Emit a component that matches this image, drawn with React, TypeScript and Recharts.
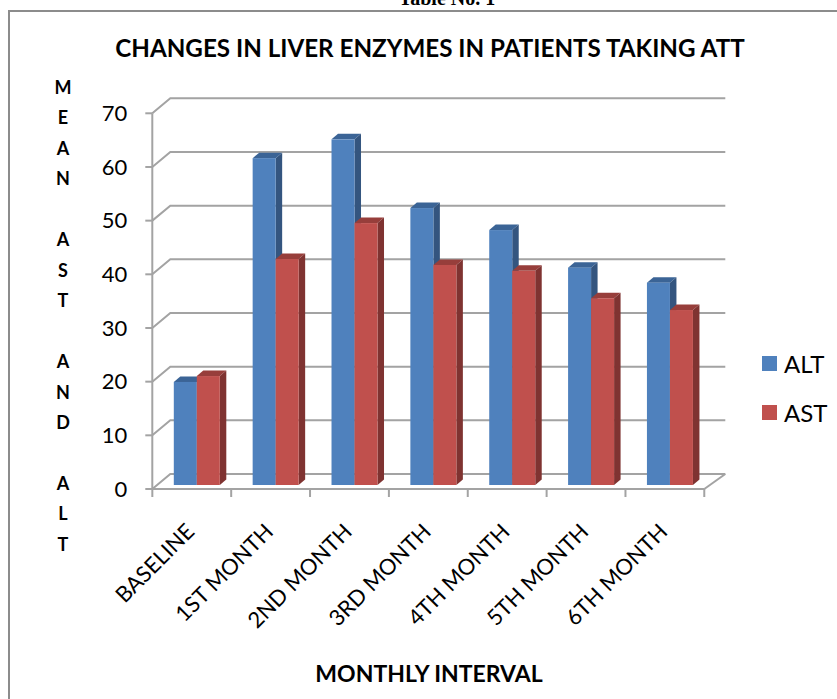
import { Bar, BarChart, CartesianGrid, Legend, XAxis, YAxis } from "recharts";

const categories = ["BASELINE", "1ST MONTH", "2ND MONTH", "3RD MONTH", "4TH MONTH", "5TH MONTH", "6TH MONTH"];
const altValues = [19.2, 60.9, 64.4, 51.6, 47.5, 40.5, 37.7];
const astValues = [20.3, 42.1, 48.8, 41, 39.9, 34.8, 32.6];
const yTicks = [0, 10, 20, 30, 40, 50, 60, 70];
const yTitleLines = ["M", "E", "A", "N", "", "A", "S", "T", "", "A", "N", "D", "", "A", "L", "T"];

const chartData = categories.map((name, i) => ({ name, ALT: altValues[i], AST: astValues[i] }));

const FONT = "Lato, sans-serif";
const AXIS_COLOR = "#a3a3a3";
const AXIS_WIDTH = 2;
const STEP = 78.8;
// offsets of the fake 3D: back wall, bars inside the floor, bar depth
const WALL_DX = 18;
const WALL_DY = 15;
const BAR_DX = 5.5;
const BAR_DY = 4;
const DEPTH_X = 6.5;
const DEPTH_Y = 5.5;

const Bar3D = ({ x, y, width, height, front, side, top }: any) => {
  const fx = x + BAR_DX;
  const fy = y - BAR_DY;
  const right = fx + width;
  const bottom = fy + height;
  return (
    <g>
      <path
        d={`M${fx},${fy} L${fx + DEPTH_X},${fy - DEPTH_Y} L${right + DEPTH_X},${fy - DEPTH_Y} L${right},${fy} Z`}
        fill={top}
      />
      <path
        d={`M${right},${fy} L${right + DEPTH_X},${fy - DEPTH_Y} L${right + DEPTH_X},${bottom - DEPTH_Y} L${right},${bottom} Z`}
        fill={side}
      />
      <rect x={fx} y={fy} width={width} height={height} fill={front} />
    </g>
  );
};

const WallLine = ({ x1, y1, x2, index }: any) => {
  const backY = y1 - WALL_DY;
  const isFloor = y1 > 480;
  return (
    <g key={index} fill="none" stroke={AXIS_COLOR} strokeWidth={AXIS_WIDTH}>
      <path d={`M${x1},${y1} L${x1 + WALL_DX},${backY} L${x2 + 21},${backY}`} />
      {isFloor && <path d={`M${x2},${y1} L${x2 + 21},${backY}`} />}
    </g>
  );
};

const CategoryTick = ({ x, y, payload, index }: any) => {
  const left = x - STEP / 2;
  const labelX = x + 4;
  const labelY = y + 36;
  return (
    <g>
      <line x1={left} y1={y - 8} x2={left} y2={y} stroke={AXIS_COLOR} strokeWidth={AXIS_WIDTH} />
      {index === categories.length - 1 && (
        <line x1={left + STEP} y1={y - 8} x2={left + STEP} y2={y} stroke={AXIS_COLOR} strokeWidth={AXIS_WIDTH} />
      )}
      <text
        x={labelX}
        y={labelY}
        transform={`rotate(-45 ${labelX} ${labelY})`}
        textAnchor="end"
        fontFamily={FONT}
        fontSize={22}
        fill="#000"
      >
        {payload.value}
      </text>
    </g>
  );
};

const LegendList = ({ payload }: any) => (
  <div>
    {payload.map((item: any) => (
      <div key={item.value} style={{ display: "flex", alignItems: "center", height: 49, fontFamily: FONT, fontSize: 24 }}>
        <span style={{ width: 15, height: 15, marginRight: 7, background: item.color }} />
        {item.value}
      </div>
    ))}
  </div>
);

export default function App() {
  return (
    <div style={{ position: "absolute", left: 0, top: 0, width: 837, height: 699, overflow: "hidden", background: "#fff" }}>
      <div
        style={{
          position: "absolute",
          left: 8,
          top: 10,
          width: 900,
          height: 800,
          border: "2.5px solid #8c8c8c",
          boxSizing: "border-box"
        }}
      />
      <div
        style={{
          position: "absolute",
          left: 0,
          width: 894,
          top: -13,
          textAlign: "center",
          fontFamily: "'Liberation Serif', serif",
          fontWeight: "bold",
          fontSize: 20
        }}
      >
        Table No. 1
      </div>
      <div style={{ position: "absolute", left: 0, top: 0 }}>
        <BarChart
          width={837}
          height={699}
          data={chartData}
          barCategoryGap="20.9%"
          barGap={0}
          barSize={23}
          margin={{ top: 113.3, left: 92.3, right: 62.7, bottom: 110 }}
        >
          <text x={430} y={57} textAnchor="middle" fontFamily={FONT} fontWeight="bold" fontSize={24.2} fill="#000">
            CHANGES IN LIVER ENZYMES IN PATIENTS TAKING ATT
          </text>
          <text x={63} y={0} textAnchor="middle" fontFamily={FONT} fontWeight="bold" fontSize={18} fill="#000">
            {yTitleLines.map((letter, i) => (
              <tspan key={i} x={63} y={94 + i * 30.45}>
                {letter}
              </tspan>
            ))}
          </text>
          <text x={429} y={682} textAnchor="middle" fontFamily={FONT} fontWeight="bold" fontSize={23} fill="#000">
            MONTHLY INTERVAL
          </text>
          <CartesianGrid vertical={false} horizontal={(props: any) => <WallLine {...props} />} />
          <XAxis
            dataKey="name"
            height={100}
            interval={0}
            tickLine={false}
            axisLine={{ stroke: AXIS_COLOR, strokeWidth: AXIS_WIDTH }}
            tick={(props: any) => <CategoryTick {...props} />}
          />
          <YAxis
            width={60}
            domain={[0, 70]}
            ticks={yTicks}
            tickSize={7}
            tickMargin={18}
            axisLine={{ stroke: AXIS_COLOR, strokeWidth: AXIS_WIDTH }}
            tickLine={{ stroke: AXIS_COLOR, strokeWidth: AXIS_WIDTH }}
            tick={{ fill: "#000", fontFamily: FONT, fontSize: 22 }}
          />
          <Legend
            layout="vertical"
            align="right"
            verticalAlign="top"
            content={(props: any) => <LegendList {...props} />}
            wrapperStyle={{ position: "absolute", left: 762, top: 339, width: 70 }}
          />
          <Bar
            dataKey="ALT"
            fill="#4f81bd"
            isAnimationActive={false}
            shape={(props: any) => <Bar3D {...props} front="#4f81bd" side="#34557f" top="#3b6496" />}
          />
          <Bar
            dataKey="AST"
            fill="#c0504d"
            isAnimationActive={false}
            shape={(props: any) => <Bar3D {...props} front="#c0504d" side="#7f3331" top="#973e3b" />}
          />
        </BarChart>
      </div>
    </div>
  );
}
